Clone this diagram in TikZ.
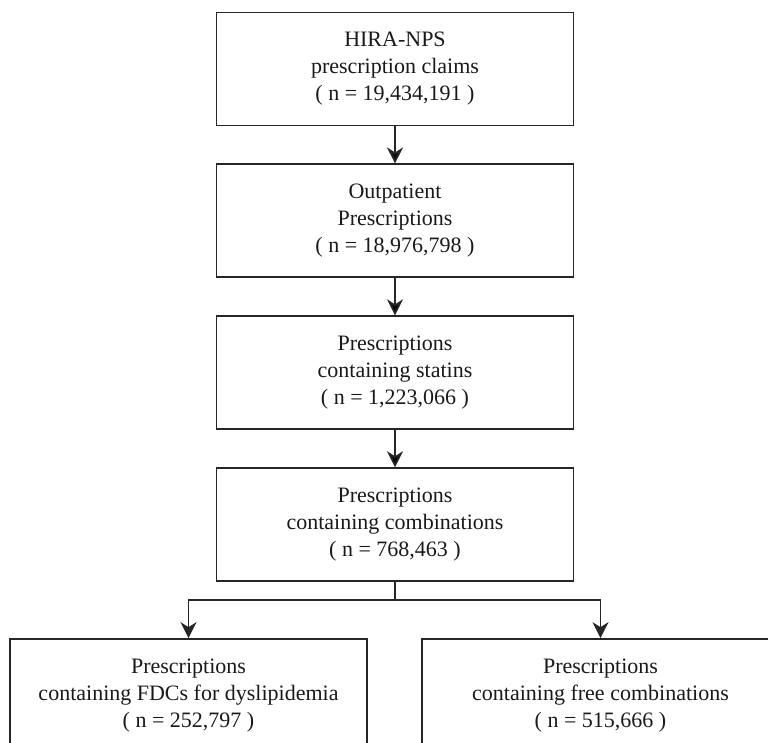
\documentclass[tikz,border=0pt]{standalone}
\usepackage{fontspec}
\setmainfont{Liberation Serif}
\usetikzlibrary{positioning,arrows.meta}

\begin{document}
\begin{tikzpicture}[x=1pt, y=-1pt,
  box/.style={draw=black!85, line width=1.9pt, text=black!90, align=center,
    minimum width=357pt, minimum height=113pt, inner sep=0pt,
    font=\fontsize{22}{27}\selectfont},
  arr/.style={draw=black!85, line width=1.9pt,
    -{Stealth[length=16pt,width=16pt,inset=5pt]}}]
  \useasboundingbox (0,0) rectangle (768,742);
  \clip (0,0) rectangle (768,742);
  \node[box] (claims) at (395,69) {HIRA-NPS\\prescription claims\\( n = 19,434,191 )};
  \node[box, below=37pt of claims] (outpat) {Outpatient\\Prescriptions\\( n = 18,976,798 )};
  \node[box, below=37pt of outpat] (statin) {Prescriptions\\containing statins\\( n = 1,223,066 )};
  \node[box, below=37pt of statin] (comb) {Prescriptions\\containing combinations\\( n = 768,463 )};
  \node[box, below=56pt of comb, xshift=-206.5pt] (fdc) {Prescriptions\\containing FDCs for dyslipidemia\\( n = 252,797 )};
  \node[box, below=56pt of comb, xshift=205.5pt] (free) {Prescriptions\\containing free combinations\\( n = 515,666 )};
  \coordinate[below=18pt of comb] (split);
  \path[arr]
  (claims) edge (outpat)
  (outpat) edge (statin)
  (statin) edge (comb);
  \draw[line width=1.9pt, draw=black!85] (comb) -- (split);
  \draw[arr] (split) -| (fdc);
  \draw[arr] (split) -| (free);
\end{tikzpicture}
\end{document}
